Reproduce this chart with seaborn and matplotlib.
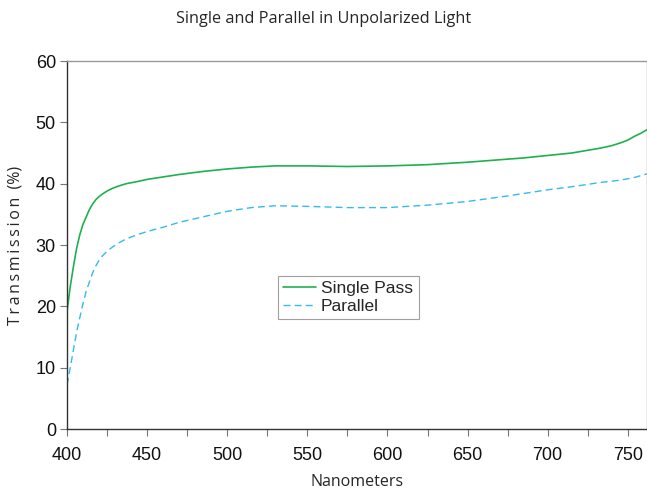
import numpy as np
import pandas as pd
import matplotlib
matplotlib.use("Agg")
import matplotlib.pyplot as plt
import seaborn as sns

# Valores
nm = [400, 402, 404, 406, 408, 410, 412, 414, 416, 418, 420, 422, 425, 428,
      432, 437, 443, 450, 460, 470, 485, 500, 515, 530, 550, 575, 600, 625,
      650, 675, 685, 700, 715, 733, 740, 746, 750, 754, 758, 762]
single_pass = [19.2, 23.2, 26.5, 29.5, 31.7, 33.4, 34.6, 35.8, 36.7, 37.4,
               37.9, 38.3, 38.8, 39.2, 39.6, 40.0, 40.3, 40.7, 41.1, 41.5,
               42.0, 42.4, 42.7, 42.9, 42.9, 42.8, 42.9, 43.1, 43.5, 44.0,
               44.2, 44.6, 45.0, 45.8, 46.2, 46.7, 47.1, 47.7, 48.2, 48.8]
parallel = [7.2, 10.0, 12.9, 15.8, 18.2, 20.5, 22.5, 24.0, 25.5, 26.6,
            27.5, 28.2, 29.0, 29.6, 30.3, 31.0, 31.6, 32.2, 32.9, 33.7,
            34.6, 35.5, 36.1, 36.4, 36.3, 36.1, 36.1, 36.5, 37.1, 38.0,
            38.4, 39.0, 39.5, 40.2, 40.4, 40.6, 40.8, 41.0, 41.3, 41.6]

dados = pd.DataFrame({"nm": nm, "Single Pass": single_pass, "Parallel": parallel})

sns.set_style("white")
plt.rcParams['font.family'] = ['Liberation Sans', 'DejaVu Sans']
fonte_rotulo = ['Open Sans', 'DejaVu Sans']

fig = plt.figure(figsize=(6.47, 4.92), dpi=100)
ax = fig.add_axes([0.1036, 0.128, 0.8964, 0.748])

sns.lineplot(data=dados, x="nm", y="Single Pass", ax=ax, color="#1fb04f",
             linewidth=1.2, label="Single Pass")
sns.lineplot(data=dados, x="nm", y="Parallel", ax=ax, color="#33bbee",
             linewidth=1.0, linestyle=(0, (5, 3)), label="Parallel")

ax.set_xlim(400, 762)
ax.set_ylim(0, 60)
ax.set_xticks(np.arange(400, 751, 50))
ax.set_xticks(np.arange(425, 751, 50), minor=True)
ax.set_yticks(np.arange(0, 61, 10))
ax.tick_params(axis="both", which="both", direction="out", length=5,
               width=0.8, color="#777777", labelsize=13, pad=3,
               labelcolor="#111111", bottom=True, left=True)
ax.tick_params(axis="x", which="both", pad=8)

for lado in ["left", "bottom"]:
    ax.spines[lado].set_color("#333333")
    ax.spines[lado].set_linewidth(1.0)
for lado in ["top", "right"]:
    ax.spines[lado].set_color("#999999")
    ax.spines[lado].set_linewidth(1.0)

ax.set_xlabel("Nanometers", fontsize=11.5, family=fonte_rotulo, labelpad=7)
rotulo_y = "\u2009".join("Transmission") + "  (%)"
ax.set_ylabel(rotulo_y, fontsize=11.5, family=fonte_rotulo, labelpad=9)
fig.suptitle("Single and Parallel in Unpolarized Light", fontsize=11.7,
             family=fonte_rotulo, y=0.978)

leg = ax.legend(loc="lower left", bbox_to_anchor=(0.364, 0.299, 0.243, 0.139),
                mode="expand", fontsize=12.5, frameon=True, fancybox=False,
                borderpad=0.3, handlelength=1.9, handletextpad=0.25,
                labelspacing=0.15, borderaxespad=0)
leg.get_frame().set_edgecolor("#888888")
leg.get_frame().set_linewidth(0.8)

fig.savefig("out.png", dpi=100)
